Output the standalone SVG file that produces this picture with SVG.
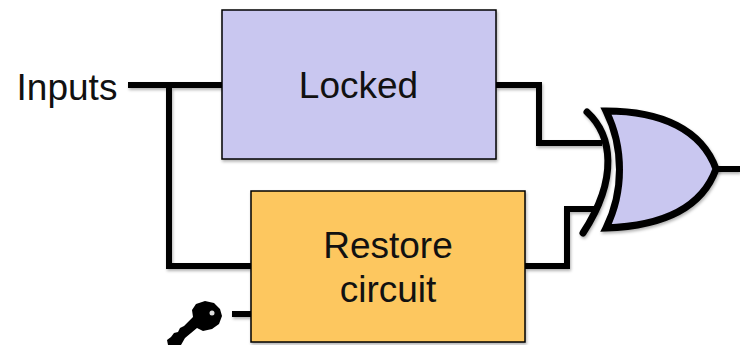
<svg xmlns="http://www.w3.org/2000/svg" width="740" height="345" viewBox="0 0 740 345">
<style>
.w{fill:none;stroke:#000;stroke-width:6;stroke-linejoin:miter}
.b{stroke:#000;stroke-width:1.5}
.t{font-family:"Liberation Sans",Arial,sans-serif;font-size:37px;fill:#111;text-anchor:middle}
</style>
<defs>
<filter id="s" x="-10%" y="-10%" width="125%" height="125%"><feDropShadow dx="1" dy="2" stdDeviation="1.5" flood-color="#000" flood-opacity="0.3"/></filter>
</defs>
<rect width="740" height="345" fill="#fff"/>
<g id="connectors" filter="url(#s)">
<path class="w" d="M128 85H222"/>
<path class="w" d="M169 85V266H251"/>
<path class="w" d="M496 85H539V143H602"/>
<path class="w" d="M525 266H567V209H598"/>
<path class="w" d="M232 314H251"/>
<path class="w" d="M714 169H740"/>
</g>
<g id="locked">
<rect class="b" x="222" y="10" width="274" height="149" fill="#c9c7f0" filter="url(#s)"/>
<text class="t" x="358.500" y="98">Locked</text>
</g>
<g id="restore">
<rect class="b" x="251" y="191" width="274" height="151" fill="#fdc75f" filter="url(#s)"/>
<text class="t" x="388" y="258">Restore</text>
<text class="t" x="388" y="302">circuit</text>
</g>
<g id="xor-gate" filter="url(#s)">
<path d="M606 111C662 111 702 130 716 169C702 208 662 226 606 228C624 192 624 147 606 111Z" fill="#c9c7f0" stroke="#000" stroke-width="7"/>
<path d="M587 112C612 135 619 178 583 233" fill="none" stroke="#000" stroke-width="7" stroke-linecap="round"/>
</g>
<g id="inputs"><text class="t" x="67" y="100">Inputs</text></g>
<g id="key">
<path d="M168 345L167 340L171 337L174 333L178 332L180 328L184 326L193 317L192 310L196 304L205 301L214 303L220 309L222 316L219 324L212 329L203 331L197 328L185 338L181 345Z" fill="#000"/>
<circle cx="212" cy="313" r="2.500" fill="#ddd"/>
</g>
</svg>
